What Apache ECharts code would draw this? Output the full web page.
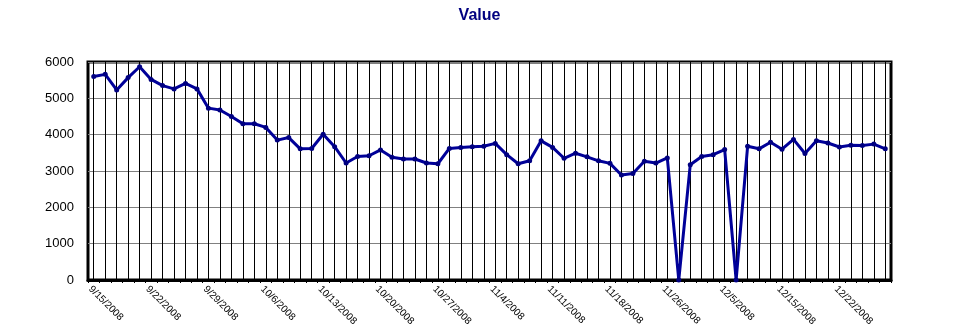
<!DOCTYPE html>
<html>
<head>
<meta charset="utf-8">
<script src="https://cdn.jsdelivr.net/npm/echarts@6/dist/echarts.min.js"></script>
<style>
  html, body { margin: 0; padding: 0; background: #fff; }
  #chart { width: 959px; height: 335px; }
</style>
</head>
<body>
<div id="chart"></div>
<script>
// dates (only every 5th one is labelled in the picture)
var dates = [
    '9/15/2008', '9/16/2008', '9/17/2008', '9/18/2008', '9/19/2008',
    '9/22/2008', '9/23/2008', '9/24/2008', '9/25/2008', '9/26/2008',
    '9/29/2008', '9/30/2008', '10/1/2008', '10/2/2008', '10/3/2008',
    '10/6/2008', '10/7/2008', '10/8/2008', '10/9/2008', '10/10/2008',
    '10/13/2008', '10/14/2008', '10/15/2008', '10/16/2008', '10/17/2008',
    '10/20/2008', '10/21/2008', '10/22/2008', '10/23/2008', '10/24/2008',
    '10/27/2008', '10/28/2008', '10/29/2008', '10/30/2008', '10/31/2008',
    '11/4/2008', '11/5/2008', '11/6/2008', '11/7/2008', '11/10/2008',
    '11/11/2008', '11/12/2008', '11/13/2008', '11/14/2008', '11/17/2008',
    '11/18/2008', '11/19/2008', '11/20/2008', '11/21/2008', '11/24/2008',
    '11/26/2008', '11/28/2008', '12/1/2008', '12/2/2008', '12/3/2008',
    '12/5/2008', '12/8/2008', '12/9/2008', '12/10/2008', '12/11/2008',
    '12/15/2008', '12/16/2008', '12/17/2008', '12/18/2008', '12/19/2008',
    '12/22/2008', '12/23/2008', '12/24/2008', '12/26/2008', '12/29/2008'
];
var values = [
    5600, 5660, 5230, 5570, 5870, 5520, 5350, 5260, 5410, 5260,
    4730, 4680, 4500, 4300, 4300, 4200, 3850, 3920, 3610, 3620,
    4010, 3670, 3220, 3400, 3420, 3580, 3380, 3330, 3330, 3220,
    3200, 3620, 3650, 3670, 3680, 3760, 3450, 3200, 3280, 3830,
    3650, 3350, 3490, 3390, 3280, 3210, 2890, 2930, 3270, 3220,
    3360, 0, 3170, 3400, 3450, 3590, 0, 3680, 3610, 3790,
    3600, 3870, 3480, 3830, 3770, 3660, 3710, 3700, 3740, 3610
];
var yTicks = { min: 0, max: 6000, step: 1000 };

var myChart = echarts.init(document.getElementById('chart'));
var option = {
    animation: false,
    title: {
        text: 'Value',
        left: 'center',
        top: 3,
        textStyle: { color: '#000080', fontSize: 16, fontWeight: 'bold', fontFamily: 'Liberation Sans' }
    },
    grid: {
        left: 88, right: 68, top: 62, bottom: 55,
        show: true,
        borderColor: '#000',
        borderWidth: 3
    },
    xAxis: [
        {
            type: 'category',
            data: dates,
            boundaryGap: true,
            axisLine: { lineStyle: { color: '#000', width: 3 } },
            axisTick: { show: true, interval: 0, length: 3, lineStyle: { color: '#000' } },
            axisLabel: {
                interval: 4,
                rotate: -45,
                margin: 4,
                verticalAlign: 'top',
                color: '#000',
                fontSize: 10,
                fontFamily: 'Liberation Sans'
            },
            splitLine: { show: false }
        },
        {
            // vertical grid lines through every point
            type: 'category',
            data: dates,
            position: 'bottom',
            boundaryGap: true,
            axisLine: { show: false },
            axisLabel: { show: false },
            axisTick: {
                show: true, inside: true, interval: 0, alignWithLabel: true,
                length: 218, lineStyle: { color: '#000', width: 1 }
            },
            splitLine: { show: false }
        }
    ],
    yAxis: {
        type: 'value',
        min: yTicks.min,
        max: yTicks.max,
        interval: yTicks.step,
        axisLine: { show: false },
        axisTick: { show: false },
        axisLabel: {
            color: '#000', fontSize: 13, margin: 14, fontFamily: 'Liberation Sans',
            formatter: function (v) { return String(v); }
        },
        splitLine: { lineStyle: { color: '#808080', width: 1 } }
    },
    series: [
        {
            name: 'Value',
            type: 'line',
            data: values,
            symbol: 'circle',
            symbolSize: 5,
            lineStyle: { color: '#000099', width: 3 },
            itemStyle: { color: '#000080' },
            z: 5
        }
    ]
};
myChart.setOption(option);
</script>
</body>
</html>
